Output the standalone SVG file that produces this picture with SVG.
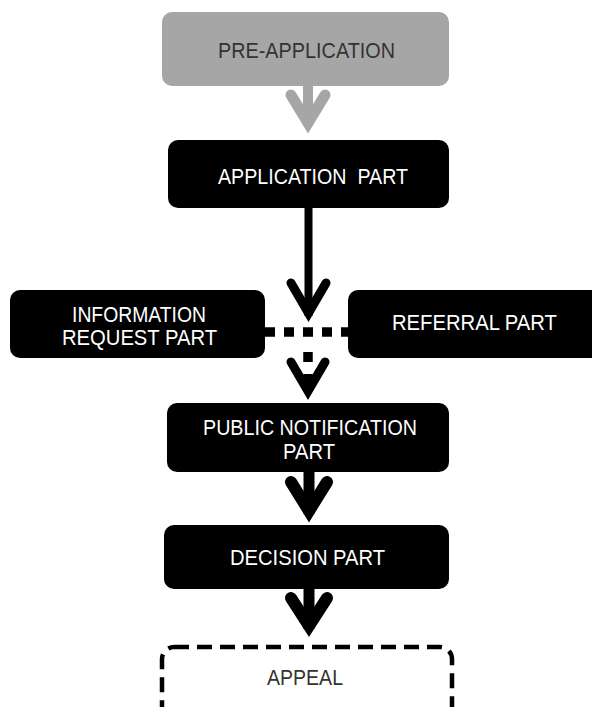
<svg xmlns="http://www.w3.org/2000/svg" width="592" height="707" viewBox="0 0 592 707">
<style>
.box{fill:#000}
.gbox{fill:#a6a6a6}
.abox{fill:#fff;stroke:#000;stroke-width:4.5;stroke-dasharray:15 8}
text{font-family:"Liberation Sans",Arial,sans-serif;font-size:22px;text-anchor:middle}
.w{fill:#fff}
.d{fill:#333}
.stem{stroke:#000;fill:none}
.chev{stroke:#000;fill:none;stroke-linecap:round;stroke-linejoin:miter;stroke-miterlimit:10}
.dots{stroke:#000;fill:none;stroke-width:9.5}
</style>
<rect width="592" height="707" fill="#fff"/>
<g id="connectors">
  <line x1="308" y1="86" x2="308" y2="126" stroke="#a6a6a6" stroke-width="10"/>
  <polyline points="291,95 308,123 325,95" fill="none" stroke="#a6a6a6" stroke-width="11" stroke-linecap="round" stroke-linejoin="miter" stroke-miterlimit="10"/>
  <line class="stem" x1="308.5" y1="208" x2="308.5" y2="316" stroke-width="8"/>
  <polyline class="chev" points="291,283 308.5,313 326,283" stroke-width="9"/>
  <line class="dots" x1="265" y1="332" x2="348" y2="332" stroke-dasharray="10 9"/>
  <line class="dots" x1="308" y1="352" x2="308" y2="386" stroke-dasharray="10 12"/>
  <polyline class="chev" points="291,362 308,391 325,362" stroke-width="9"/>
  <line class="stem" x1="309" y1="472" x2="309" y2="514" stroke-width="11"/>
  <polyline class="chev" points="291,482 309,511 327,482" stroke-width="12"/>
  <line class="stem" x1="309" y1="589" x2="309" y2="629" stroke-width="11"/>
  <polyline class="chev" points="291,598 309,626 327,598" stroke-width="12"/>
</g>
<g id="pre-application">
  <rect class="gbox" x="162" y="12" width="287" height="74" rx="10"/>
  <text class="d" x="306.5" y="58" textLength="177" lengthAdjust="spacingAndGlyphs">PRE-APPLICATION</text>
</g>
<g id="application">
  <rect class="box" x="168" y="140" width="281" height="68" rx="10"/>
  <text class="w" x="313" y="184" textLength="190" lengthAdjust="spacingAndGlyphs" xml:space="preserve">APPLICATION  PART</text>
</g>
<g id="information-request">
  <rect class="box" x="10" y="290" width="255" height="68" rx="10"/>
  <text class="w" x="139" y="322" textLength="134" lengthAdjust="spacingAndGlyphs">INFORMATION</text>
  <text class="w" x="139.5" y="345" textLength="155" lengthAdjust="spacingAndGlyphs">REQUEST PART</text>
</g>
<g id="referral">
  <rect class="box" x="348" y="290" width="260" height="68" rx="10"/>
  <text class="w" x="474.5" y="330" textLength="165" lengthAdjust="spacingAndGlyphs">REFERRAL PART</text>
</g>
<g id="public-notification">
  <rect class="box" x="167" y="403" width="282" height="69" rx="10"/>
  <text class="w" x="310" y="435" textLength="214" lengthAdjust="spacingAndGlyphs">PUBLIC NOTIFICATION</text>
  <text class="w" x="309" y="459" textLength="52" lengthAdjust="spacingAndGlyphs">PART</text>
</g>
<g id="decision">
  <rect class="box" x="164" y="525" width="285" height="64" rx="10"/>
  <text class="w" x="307.5" y="565" textLength="155" lengthAdjust="spacingAndGlyphs">DECISION PART</text>
</g>
<g id="appeal">
  <rect class="abox" x="162" y="647" width="290" height="80" rx="12"/>
  <text class="d" x="305" y="685" textLength="76" lengthAdjust="spacingAndGlyphs">APPEAL</text>
</g>
</svg>
